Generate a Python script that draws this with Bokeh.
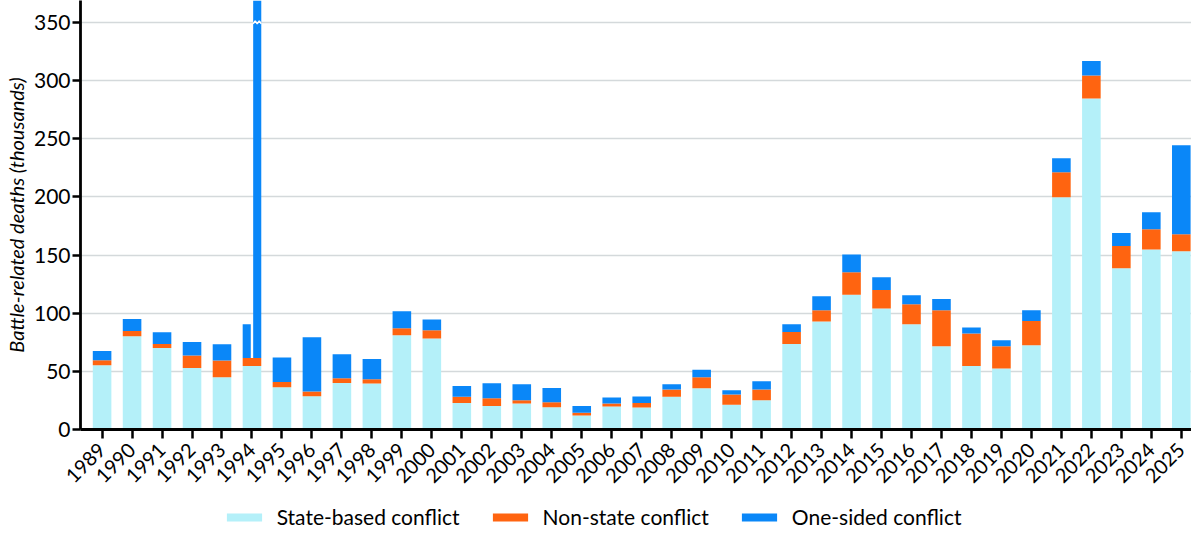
import math
from bokeh.plotting import figure
from bokeh.layouts import column
from bokeh.models import ColumnDataSource, FixedTicker, Legend, LegendItem, Range1d
from bokeh.embed import file_html
from bokeh.resources import INLINE

years = list(range(1989, 2026))
state_based = [55.3, 80.2, 70.2, 53.0, 45.0, 54.7, 36.4, 28.6, 40.1, 39.6,
               81.0, 78.2, 22.9, 20.3, 22.3, 19.2, 12.0, 19.8, 18.9, 28.1,
               35.5, 21.2, 25.2, 73.6, 93.0, 115.8, 104.0, 90.6, 71.6, 54.7,
               52.5, 72.5, 199.8, 284.7, 138.7, 154.8, 153.3]
non_state = [4.3, 4.6, 3.4, 10.6, 14.3, 6.9, 4.5, 4.1, 4.0, 3.7,
             6.0, 7.2, 5.2, 6.6, 2.9, 4.3, 2.3, 2.5, 4.0, 6.3,
             9.5, 8.9, 9.2, 10.3, 9.6, 19.5, 16.0, 17.2, 31.0, 27.9,
             19.1, 20.9, 21.5, 19.7, 19.2, 17.5, 14.7]
one_sided = [8.0, 10.3, 10.1, 11.7, 14.1, 29.0, 21.0, 46.7, 20.7, 17.4,
             14.8, 9.2, 9.4, 12.9, 13.8, 12.3, 6.0, 5.2, 5.5, 4.6,
             6.3, 3.7, 7.1, 6.7, 12.0, 15.2, 11.0, 7.7, 9.7, 5.1,
             5.2, 9.2, 12.0, 12.6, 11.2, 14.6, 76.5]
# 1994: one-sided deaths including the Rwandan genocide (bar broken at the axis top)
split_year = 1994
one_sided_1994_full = 520.0
axis_break = 350
y_ticks = [0, 50, 100, 150, 200, 250, 300, 350]
labels = ["State-based conflict", "Non-state conflict", "One-sided conflict"]
colors = ["#b4f0f9", "#ff6410", "#0a87f8"]

FONT = "Lato"
BAR_W = 0.62
GAP = 0.08

ns_bottom = state_based
ns_top = [s + n for s, n in zip(state_based, non_state)]
os_top = [t + o for t, o in zip(ns_top, one_sided)]

src = ColumnDataSource(dict(x=years, s=state_based, nb=ns_bottom, nt=ns_top))
idx = [i for i, y in enumerate(years) if y != split_year]
src_os = ColumnDataSource(dict(x=[years[i] for i in idx],
                               b=[ns_top[i] for i in idx],
                               t=[os_top[i] for i in idx]))
k = years.index(split_year)
half = (BAR_W - GAP) / 2
src_split = ColumnDataSource(dict(
    x=[split_year - BAR_W / 2 + half / 2, split_year + BAR_W / 2 - half / 2],
    b=[ns_top[k], ns_top[k]],
    t=[os_top[k], ns_top[k] + one_sided_1994_full]))

p = figure(frame_width=1111, frame_height=429,
           x_range=Range1d(1988.28, 2025.34), y_range=Range1d(0, 369.0),
           output_backend="svg", toolbar_location=None,
           min_border_left=71, min_border_right=0, min_border_top=0,
           min_border_bottom=76, outline_line_color=None,
           background_fill_color="white", border_fill_color="white")

p.vbar(x="x", bottom=0, top="s", width=BAR_W, source=src,
       fill_color=colors[0], line_color=None)
p.vbar(x="x", bottom="nb", top="nt", width=BAR_W, source=src,
       fill_color=colors[1], line_color=None)
p.vbar(x="x", bottom="b", top="t", width=BAR_W, source=src_os,
       fill_color=colors[2], line_color=None)
p.vbar(x="x", bottom="b", top="t", width=half, source=src_split,
       fill_color=colors[2], line_color=None)

# wavy axis-break mark on the overflowing half-bar
rx = src_split.data["x"][1]
zx = [rx - half / 2 + half * i / 4 for i in range(5)]
zy = [axis_break + (1.5 if i % 2 else -1.0) for i in range(5)]
p.line(zx, zy, line_color="white", line_width=1.5)

# axes
p.xgrid.visible = False
p.ygrid.grid_line_color = "#d4d9db"
p.ygrid.grid_line_width = 1.5
p.ygrid.ticker = FixedTicker(ticks=y_ticks)

p.yaxis.ticker = FixedTicker(ticks=y_ticks)
p.xaxis.ticker = FixedTicker(ticks=years)
for ax in (p.xaxis, p.yaxis):
    ax.axis_line_color = "black"
    ax.axis_line_width = 2.8
    ax.major_tick_line_color = "black"
    ax.major_tick_line_width = 2.5
    ax.major_tick_in = 0
    ax.minor_tick_line_color = None
    ax.major_label_text_font = FONT
    ax.major_label_text_color = "black"
p.xaxis.major_tick_out = 9
p.yaxis.major_tick_out = 8
p.xaxis.major_label_text_font_size = "20px"
p.yaxis.major_label_text_font_size = "21px"
p.xaxis.major_label_orientation = math.pi / 4
p.xaxis.major_label_standoff = 8
p.yaxis.major_label_standoff = 2
p.yaxis.axis_label = "Battle-related deaths (thousands)"
p.yaxis.axis_label_text_font = FONT
p.yaxis.axis_label_text_font_style = "italic"
p.yaxis.axis_label_text_font_size = "20px"
p.yaxis.axis_label_text_color = "black"
p.yaxis.axis_label_standoff = 3

# legend strip below the chart (swatch proxies sit outside the strip's range)
lg = figure(frame_width=1111, frame_height=24, x_range=Range1d(0, 1), y_range=Range1d(0, 1),
            output_backend="svg", toolbar_location=None,
            x_axis_type=None, y_axis_type=None,
            min_border_left=71, min_border_right=0, min_border_top=0,
            min_border_bottom=0, outline_line_color=None,
            background_fill_color="white", border_fill_color="white")
lg.xgrid.visible = False
lg.ygrid.visible = False
proxy = dict(x=[-5.0], b=[-5.0], t=[-4.0])
swatches = [lg.vbar(x="x", bottom="b", top="t", width=0.1,
                    source=ColumnDataSource(dict(proxy)),
                    fill_color=c, line_color=None) for c in colors]
legend = Legend(items=[LegendItem(label=l, renderers=[r]) for l, r in zip(labels, swatches)],
                orientation="horizontal", location=(198, 0),
                border_line_color=None, background_fill_alpha=0,
                label_text_font=FONT, label_text_font_size="21px",
                label_text_color="black", glyph_width=44, glyph_height=10,
                label_standoff=11, spacing=28, padding=0, margin=0)
lg.add_layout(legend, "center")

layout = column(p, lg, spacing=0)
open("out.html", "w").write(file_html(layout, INLINE))
